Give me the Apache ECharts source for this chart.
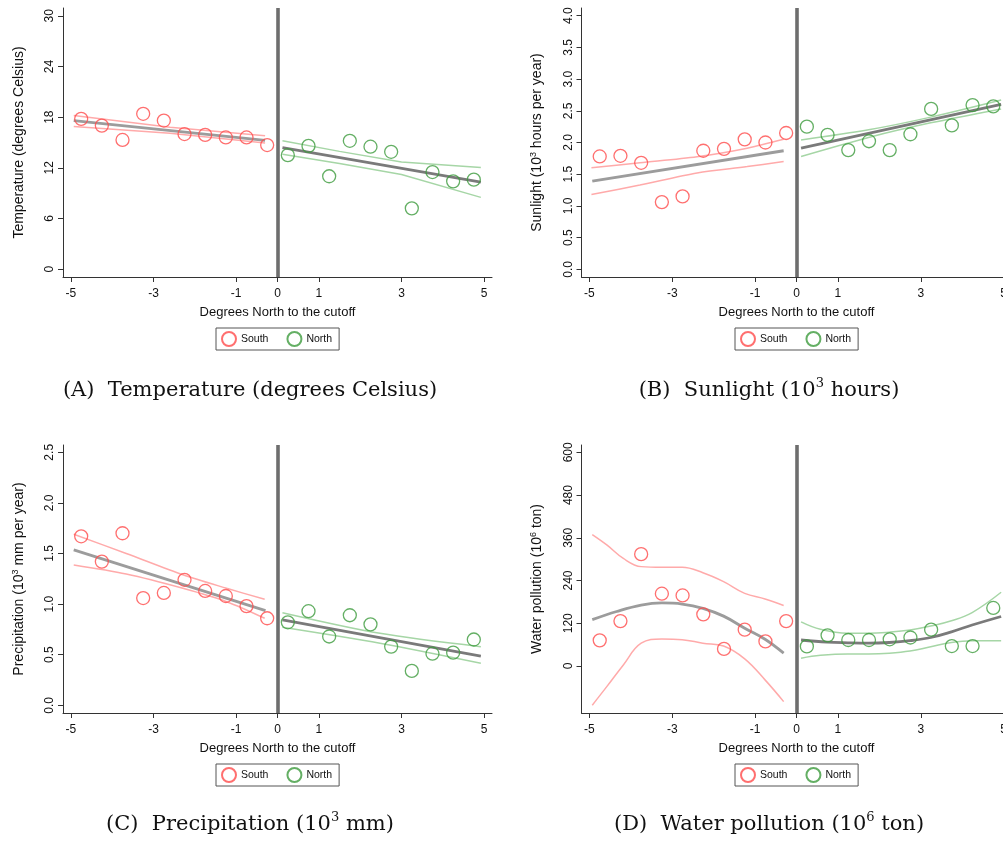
<!DOCTYPE html>
<html>
<head>
<meta charset="utf-8">
<script src="https://cdn.jsdelivr.net/npm/echarts@6/dist/echarts.min.js"></script>
<style>
  html, body { margin: 0; padding: 0; background: #fff; overflow: hidden; }
  /* the right-hand panels run slightly past the page edge */
  #chart { width: 1012px; height: 842px; }
</style>
</head>
<body>
<div id="chart"></div>
<script>
// Bin midpoints (degrees north of the cutoff)
const southBins = [-4.75, -4.25, -3.75, -3.25, -2.75, -2.25, -1.75, -1.25, -0.75, -0.25];
const northBins = [0.25, 0.75, 1.25, 1.75, 2.25, 2.75, 3.25, 3.75, 4.25, 4.75];
const xTicks = [-5, -3, -1, 0, 1, 3, 5];

// (A) Temperature, degrees Celsius
const tempSouth = [17.8, 17.0, 15.3, 18.4, 17.6, 16.0, 15.9, 15.6, 15.6, 14.7];
const tempNorth = [13.5, 14.6, 11.0, 15.2, 14.5, 13.9, 7.2, 11.5, 10.4, 10.6];
const tempFitSouth = [[-4.93, 17.6], [-0.3, 15.25]];
const tempHiSouth = [[-4.93, 18.2], [-2.6, 16.8], [-0.3, 15.8]];
const tempLoSouth = [[-4.93, 16.9], [-2.6, 16.1], [-0.3, 14.95]];
const tempFitNorth = [[0.12, 14.4], [4.92, 10.3]];
const tempHiNorth = [[0.12, 15.2], [1.5, 13.95], [3.0, 12.7], [4.92, 12.05]];
const tempLoNorth = [[0.12, 13.6], [1.5, 12.5], [3.0, 11.2], [4.92, 8.5]];
const tempTicks = [0, 6, 12, 18, 24, 30];

// (B) Sunlight, 10^3 hours per year
const sunSouth = [1.78, 1.79, 1.68, 1.06, 1.15, 1.87, 1.90, 2.05, 2.00, 2.15];
const sunNorth = [2.25, 2.12, 1.88, 2.02, 1.88, 2.13, 2.53, 2.27, 2.59, 2.57];
const sunFitSouth = [[-4.93, 1.39], [-0.31, 1.87]];
const sunHiSouth = [[-4.95, 1.60], [-3.78, 1.68], [-2.40, 1.775], [-1.19, 1.91], [-0.31, 2.05]];
const sunLoSouth = [[-4.95, 1.18], [-3.78, 1.33], [-2.40, 1.52], [-1.19, 1.62], [-0.31, 1.70]];
const sunFitNorth = [[0.11, 1.91], [4.94, 2.60]];
const sunHiNorth = [[0.11, 2.04], [1.74, 2.20], [3.24, 2.40], [4.94, 2.67]];
const sunLoNorth = [[0.11, 1.78], [1.74, 2.08], [3.24, 2.31], [4.94, 2.53]];
const sunTicks = [0, 0.5, 1, 1.5, 2, 2.5, 3, 3.5, 4];

// (C) Precipitation, 10^3 mm per year
const precSouth = [1.67, 1.42, 1.70, 1.06, 1.11, 1.24, 1.13, 1.08, 0.98, 0.86];
const precNorth = [0.82, 0.93, 0.68, 0.89, 0.80, 0.58, 0.34, 0.51, 0.52, 0.65];
const precFitSouth = [[-4.93, 1.535], [-0.29, 0.935]];
const precHiSouth = [[-4.93, 1.69], [-3.66, 1.50], [-2.29, 1.29], [-1.23, 1.156], [-0.31, 1.047]];
const precLoSouth = [[-4.93, 1.386], [-3.66, 1.297], [-2.29, 1.156], [-1.23, 1.024], [-0.31, 0.86]];
const precFitNorth = [[0.12, 0.843], [4.92, 0.487]];
const precHiNorth = [[0.12, 0.915], [2.48, 0.711], [4.92, 0.579]];
const precLoNorth = [[0.12, 0.771], [2.48, 0.613], [4.92, 0.415]];
const precTicks = [0, 0.5, 1, 1.5, 2, 2.5];

// (D) Water pollution, 10^6 ton
const polSouth = [72, 126, 314, 203, 198, 145, 48, 102, 69, 126];
const polNorth = [55, 86, 73, 73, 75, 80, 102, 56, 56, 163];
const polFitSouth = [[-4.93, 130], [-4.34, 153], [-3.75, 171], [-3.25, 177], [-2.76, 174], [-2.26, 162],
                     [-1.76, 140], [-1.25, 106], [-0.76, 75], [-0.31, 36]];
const polHiSouth = [[-4.93, 369], [-4.58, 340], [-4.18, 302], [-3.75, 279], [-3.25, 277], [-2.76, 277],
                    [-2.26, 262], [-1.76, 237], [-1.25, 204], [-0.76, 188], [-0.31, 170]];
const polLoSouth = [[-4.93, -110], [-4.58, -58], [-4.18, 3], [-3.75, 64], [-3.25, 76], [-2.76, 74],
                    [-2.26, 64], [-1.76, 56], [-1.25, 20], [-0.76, -39], [-0.31, -100]];
const polFitNorth = [[0.11, 73], [0.74, 67], [1.24, 65], [1.74, 64], [2.24, 66], [2.74, 71],
                     [3.24, 80], [3.74, 96], [4.24, 115], [4.94, 139]];
const polHiNorth = [[0.11, 124], [0.58, 103], [1.24, 92], [1.74, 92], [2.24, 95], [2.74, 101],
                    [3.24, 112], [3.74, 127], [4.24, 150], [4.94, 207]];
const polLoNorth = [[0.11, 22], [0.58, 30], [1.24, 34], [1.74, 34], [2.24, 36], [2.74, 42],
                    [3.24, 54], [3.74, 66], [4.24, 71], [4.94, 71]];
const polTicks = [0, 120, 240, 360, 480, 600];

// Panel texts
const xTitle = 'Degrees North to the cutoff';
const yTitles = [
  'Temperature (degrees Celsius)',
  'Sunlight (10{sup|3} hours per year)',
  'Precipitation (10{sup|3} mm per year)',
  'Water pollution (10{sup|6} ton)'
];
const captions = [
  '(A)  Temperature (degrees Celsius)',
  '(B)  Sunlight (10{sup|3} hours)',
  '(C)  Precipitation (10{sup|3} mm)',
  '(D)  Water pollution (10{sup|6} ton)'
];

// Styling
const RED = '#ff4b4b', GREEN = '#3d9b3d';
const RED_CI = '#ffaaaa', GREEN_CI = '#a6d6a6';
const FIT_S = '#9c9c9c', FIT_N = '#7a7a7a';
const AXIS = '#333';
const SANS = 'Liberation Sans, Arial, sans-serif';
const SERIF = 'DejaVu Serif, serif';

// Panel geometry (pixels) and y ranges
const grids = [
  { left: 63,  top: 8,   width: 429, height: 269 },
  { left: 581.5, top: 8, width: 430, height: 269 },
  { left: 63,  top: 445, width: 429, height: 268 },
  { left: 581.5, top: 445, width: 430, height: 268 }
];
const yRanges = [[-0.93, 30.93], [-0.121, 4.121], [-0.076, 2.572], [-132, 620.5]];
const yTickSets = [tempTicks, sunTicks, precTicks, polTicks];
const yDecimals = [0, 1, 1, 0];

const panels = [
  { s: tempSouth, n: tempNorth, fs: tempFitSouth, hs: tempHiSouth, ls: tempLoSouth, fn: tempFitNorth, hn: tempHiNorth, ln: tempLoNorth, smooth: false },
  { s: sunSouth,  n: sunNorth,  fs: sunFitSouth,  hs: sunHiSouth,  ls: sunLoSouth,  fn: sunFitNorth,  hn: sunHiNorth,  ln: sunLoNorth, smooth: 0.3 },
  { s: precSouth, n: precNorth, fs: precFitSouth, hs: precHiSouth, ls: precLoSouth, fn: precFitNorth, hn: precHiNorth, ln: precLoNorth, smooth: 0.3 },
  { s: polSouth,  n: polNorth,  fs: polFitSouth,  hs: polHiSouth,  ls: polLoSouth,  fn: polFitNorth,  hn: polHiNorth,  ln: polLoNorth, smooth: 0.4 }
];

const supRich = {
  sup: { fontSize: 9, fontFamily: SANS, color: '#111', verticalAlign: 'top' }
};

const xAxes = [], yAxes = [], series = [], legends = [], titles = [];

panels.forEach((p, i) => {
  const g = grids[i];
  xAxes.push({
    gridIndex: i, type: 'value', min: -5.19, max: 5.19,
    splitLine: { show: false },
    axisLine: { onZero: false, lineStyle: { color: AXIS, width: 1 } },
    axisTick: { customValues: xTicks, length: 5, lineStyle: { color: AXIS } },
    axisLabel: { customValues: xTicks, fontSize: 12, fontFamily: SANS, color: '#111', margin: 11 },
    name: xTitle, nameLocation: 'middle', nameGap: 29,
    nameTextStyle: { fontSize: 13, fontFamily: SANS, color: '#111' }
  });
  const dec = yDecimals[i];
  yAxes.push({
    gridIndex: i, type: 'value', min: yRanges[i][0], max: yRanges[i][1],
    splitLine: { show: false },
    axisLine: { show: true, onZero: false, lineStyle: { color: AXIS, width: 1 } },
    axisTick: { show: true, customValues: yTickSets[i], length: 5, lineStyle: { color: AXIS } },
    axisLabel: {
      customValues: yTickSets[i], rotate: 90, fontSize: 12, fontFamily: SANS, color: '#111', margin: 7,
      formatter: v => Number(v).toFixed(dec)
    },
    name: yTitles[i], nameLocation: 'middle', nameGap: 36, nameRotate: 90,
    nameTextStyle: { fontSize: 14, fontFamily: SANS, color: '#111', lineHeight: 16, rich: supRich }
  });

  const xi = i, yi = i;
  const south = southBins.map((x, k) => [x, p.s[k]]);
  const north = northBins.map((x, k) => [x, p.n[k]]);
  const band = (name, data, color) => ({
    name, type: 'line', xAxisIndex: xi, yAxisIndex: yi, data, smooth: p.smooth,
    showSymbol: false, symbol: 'none', silent: true,
    lineStyle: { color, width: 1.5 }, z: 2
  });
  const fit = (name, data, color) => ({
    name, type: 'line', xAxisIndex: xi, yAxisIndex: yi, data, smooth: p.smooth,
    showSymbol: false, symbol: 'none', silent: true,
    lineStyle: { color, width: 2.8 }, z: 3
  });
  series.push(
    band('south upper ' + i, p.hs, RED_CI),
    band('south lower ' + i, p.ls, RED_CI),
    band('north upper ' + i, p.hn, GREEN_CI),
    band('north lower ' + i, p.ln, GREEN_CI),
    fit('south fit ' + i, p.fs, FIT_S),
    fit('north fit ' + i, p.fn, FIT_N),
    {
      name: 'South', type: 'scatter', xAxisIndex: xi, yAxisIndex: yi, data: south,
      symbol: 'circle', symbolSize: 13, z: 4,
      itemStyle: { color: 'rgba(255,255,255,0)', borderColor: RED, borderWidth: 1.3 },
      markLine: {
        silent: true, symbol: 'none', label: { show: false },
        lineStyle: { color: '#6e6e6e', width: 3.6, type: 'solid' },
        data: [{ xAxis: 0 }], z: 5
      }
    },
    {
      name: 'North', type: 'scatter', xAxisIndex: xi, yAxisIndex: yi, data: north,
      symbol: 'circle', symbolSize: 13, z: 4,
      itemStyle: { color: 'rgba(255,255,255,0)', borderColor: GREEN, borderWidth: 1.3 }
    }
  );

  legends.push({
    data: ['South', 'North'],
    left: Math.round(g.left + g.width / 2 - 62), top: g.top + g.height + 51,
    orient: 'horizontal', itemWidth: 14, itemHeight: 14, itemGap: 18,
    padding: [3, 7, 3, 5], borderColor: '#555', borderWidth: 1, borderRadius: 0,
    selectedMode: false,
    textStyle: { fontSize: 10.5, fontFamily: SANS, color: '#111' }
  });

  titles.push({
    text: captions[i],
    left: i % 2 ? 769 : 250, top: i < 2 ? 377 : 811, textAlign: 'center', padding: 0,
    textStyle: {
      fontSize: 21, fontWeight: 'normal', fontFamily: SERIF, color: '#111', lineHeight: 28,
      rich: { sup: { fontSize: 13, fontFamily: SERIF, color: '#111', verticalAlign: 'top', lineHeight: 14 } }
    }
  });
});

const chart = echarts.init(document.getElementById('chart'), null, { renderer: 'canvas' });
chart.setOption({
  backgroundColor: '#fff',
  animation: false,
  grid: grids.map(g => Object.assign({ containLabel: false }, g)),
  xAxis: xAxes,
  yAxis: yAxes,
  legend: legends,
  title: titles,
  series
});
</script>
</body>
</html>
